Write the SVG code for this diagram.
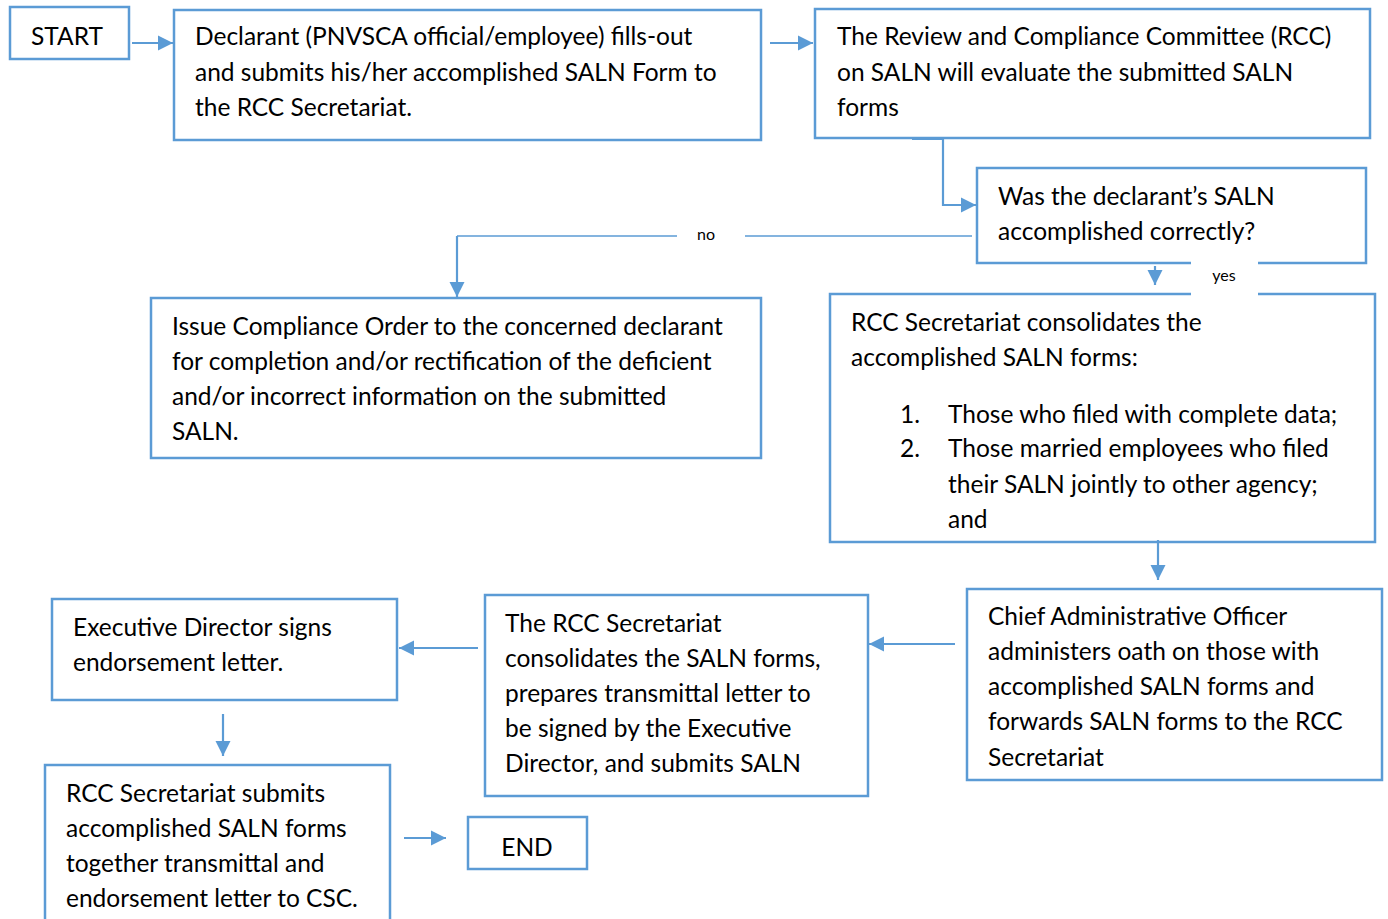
<svg xmlns="http://www.w3.org/2000/svg" width="1388" height="919" viewBox="0 0 1388 919">
<defs>
<marker id="ah" viewBox="0 0 10 10" refX="10" refY="5" markerWidth="7" markerHeight="7" markerUnits="strokeWidth" orient="auto">
<path d="M0,0 L10,5 L0,10 z" fill="#5B9BD5"/>
</marker>
<style>
.box{fill:#fff;stroke:#5B9BD5;stroke-width:2.5}
.t{font-family:Lato,"Liberation Sans",sans-serif;font-size:24.5px;fill:#000}
.c{fill:none;stroke:#5B9BD5;stroke-width:2.2}
.thin{fill:none;stroke:#5B9BD5;stroke-width:1.3}
.lbl{font-family:Lato,"Liberation Sans",sans-serif;font-size:16px;fill:#000}
</style>
</defs>
<rect width="1388" height="919" fill="#fff"/>

<g id="start">
<rect class="box" x="10" y="7" width="119" height="52"/>
<text class="t" x="67" y="45" text-anchor="middle">START</text>
</g>

<g id="declarant">
<rect class="box" x="174" y="10" width="587" height="130"/>
<text class="t" x="195" y="45">Declarant (PNVSCA official/employee) fills-out</text>
<text class="t" x="195" y="81">and submits his/her accomplished SALN Form to</text>
<text class="t" x="195" y="116">the RCC Secretariat.</text>
</g>

<g id="rcc">
<rect class="box" x="815" y="9" width="555" height="129"/>
<text class="t" x="837" y="45">The Review and Compliance Committee (RCC)</text>
<text class="t" x="837" y="81">on SALN will evaluate the submitted SALN</text>
<text class="t" x="837" y="116">forms</text>
</g>

<g id="decision">
<rect class="box" x="977" y="168" width="389" height="95"/>
<text class="t" x="998" y="205">Was the declarant’s SALN</text>
<text class="t" x="998" y="240">accomplished correctly?</text>
</g>

<g id="issue">
<rect class="box" x="151" y="298" width="610" height="160"/>
<text class="t" x="172" y="335">Issue Compliance Order to the concerned declarant</text>
<text class="t" x="172" y="370">for completion and/or rectification of the deficient</text>
<text class="t" x="172" y="405">and/or incorrect information on the submitted</text>
<text class="t" x="172" y="440">SALN.</text>
</g>

<g id="consolidate">
<rect class="box" x="830" y="294" width="545" height="248"/>
<text class="t" x="851" y="331">RCC Secretariat consolidates the</text>
<text class="t" x="851" y="366">accomplished SALN forms:</text>
<text class="t" x="900" y="423">1.</text>
<text class="t" x="948" y="423">Those who filed with complete data;</text>
<text class="t" x="900" y="457">2.</text>
<text class="t" x="948" y="457">Those married employees who filed</text>
<text class="t" x="948" y="493">their SALN jointly to other agency;</text>
<text class="t" x="948" y="528">and</text>
</g>

<g id="chief">
<rect class="box" x="967" y="589" width="415" height="191"/>
<text class="t" x="988" y="625">Chief Administrative Officer</text>
<text class="t" x="988" y="660">administers oath on those with</text>
<text class="t" x="988" y="695">accomplished SALN forms and</text>
<text class="t" x="988" y="730">forwards SALN forms to the RCC</text>
<text class="t" x="988" y="766">Secretariat</text>
</g>

<g id="secretariat">
<rect class="box" x="485" y="595" width="383" height="201"/>
<text class="t" x="505" y="632">The RCC Secretariat</text>
<text class="t" x="505" y="667">consolidates the SALN forms,</text>
<text class="t" x="505" y="702">prepares transmittal letter to</text>
<text class="t" x="505" y="737">be signed by the Executive</text>
<text class="t" x="505" y="772">Director, and submits SALN</text>
</g>

<g id="executive">
<rect class="box" x="52" y="599" width="345" height="101"/>
<text class="t" x="73" y="636">Executive Director signs</text>
<text class="t" x="73" y="671">endorsement letter.</text>
</g>

<g id="submit">
<rect class="box" x="45" y="765" width="345" height="170"/>
<text class="t" x="66" y="802">RCC Secretariat submits</text>
<text class="t" x="66" y="837">accomplished SALN forms</text>
<text class="t" x="66" y="872">together transmittal and</text>
<text class="t" x="66" y="907">endorsement letter to CSC.</text>
</g>

<g id="end">
<rect class="box" x="468" y="817" width="119" height="52"/>
<text class="t" x="527" y="856" text-anchor="middle">END</text>
</g>

<g id="connectors">
<path class="c" d="M132,43 H173" marker-end="url(#ah)"/>
<path class="c" d="M770,43 H813" marker-end="url(#ah)"/>
<path class="c" d="M912,139 H943 V205 H976" marker-end="url(#ah)"/>
<path class="thin" d="M972,236 H457"/>
<path class="c" d="M457,236 V297" marker-end="url(#ah)"/>
<rect x="677" y="225" width="68" height="20" fill="#fff"/>
<text class="lbl" x="706" y="240" text-anchor="middle">no</text>
<path class="c" d="M1155,266 V285" marker-end="url(#ah)"/>
<rect x="1191" y="258" width="67" height="40" fill="#fff"/>
<text class="lbl" x="1224" y="281" text-anchor="middle">yes</text>
<path class="c" d="M1158,540 V580" marker-end="url(#ah)"/>
<path class="c" d="M955,644 H869" marker-end="url(#ah)"/>
<path class="c" d="M478,648 H399" marker-end="url(#ah)"/>
<path class="c" d="M223,714 V756" marker-end="url(#ah)"/>
<path class="c" d="M404,838 H446" marker-end="url(#ah)"/>
</g>
</svg>
